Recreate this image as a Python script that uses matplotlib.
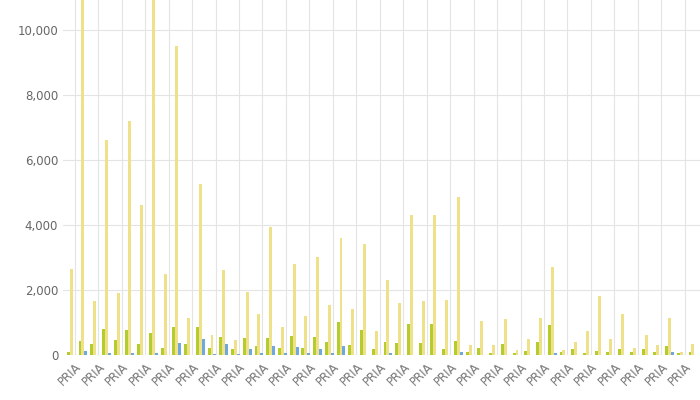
import matplotlib
matplotlib.use("Agg")
import matplotlib.pyplot as plt
import numpy as np

categories = ["PRIA"] * 54
series_a = [100,430,340,800,460,770,340,680,210,860,340,860,210,550,190,520,280,520,220,590,
            200,550,400,1030,300,780,170,410,380,950,380,950,180,430,90,200,60,350,60,130,
            400,920,90,170,60,130,90,180,90,180,90,270,60,90]
series_b = [2650,12000,1650,6600,1900,7200,4600,11500,2500,9500,1150,5250,600,2600,450,1950,1250,3950,850,2800,
            1200,3000,1550,3600,1400,3400,750,2300,1600,4300,1650,4300,1700,4850,300,1050,300,1100,150,500,
            1150,2700,150,400,750,1800,500,1250,200,600,300,1150,100,350]
series_c = [0,130,0,50,0,50,0,50,0,360,0,490,20,330,30,180,50,270,50,260,
            50,180,70,290,10,10,10,50,10,10,10,10,10,90,10,10,10,10,10,10,
            10,50,10,10,10,10,10,10,10,10,10,90,10,10]

fig, ax = plt.subplots(figsize=(7, 4), dpi=100)
fig.subplots_adjust(left=0.09, right=1.0, top=1.0, bottom=0.1125)
x = np.arange(len(categories))
w = 0.25
ax.bar(x - w, series_a, w, color="#b5cc2e")
ax.bar(x, series_b, w, color="#efe08a")
ax.bar(x + w, series_c, w, color="#6fa8dc")
ax.set_ylim(0, 10920)
ax.set_xlim(-0.7, len(categories) - 0.4)
ax.set_yticks(range(0, 10001, 2000))
ax.set_yticklabels([f"{v:,}" for v in range(0, 10001, 2000)], color="#666666", fontsize=8.5)
ax.set_xticks(x[::2] + 0.3)
ax.set_xticklabels(categories[::2], rotation=45, ha="right", color="#777777", fontsize=8.5,
                   rotation_mode="anchor")
ax.tick_params(length=0)
ax.set_ylabel("Axis B", fontweight="bold", color="#555555", fontsize=8.5)
ax.yaxis.set_label_coords(-0.1, 0.5)
ax.grid(True, color="#e4e4e4", linewidth=0.8)
ax.set_axisbelow(True)
for s in ax.spines.values():
    s.set_visible(False)
fig.savefig("out.png")
